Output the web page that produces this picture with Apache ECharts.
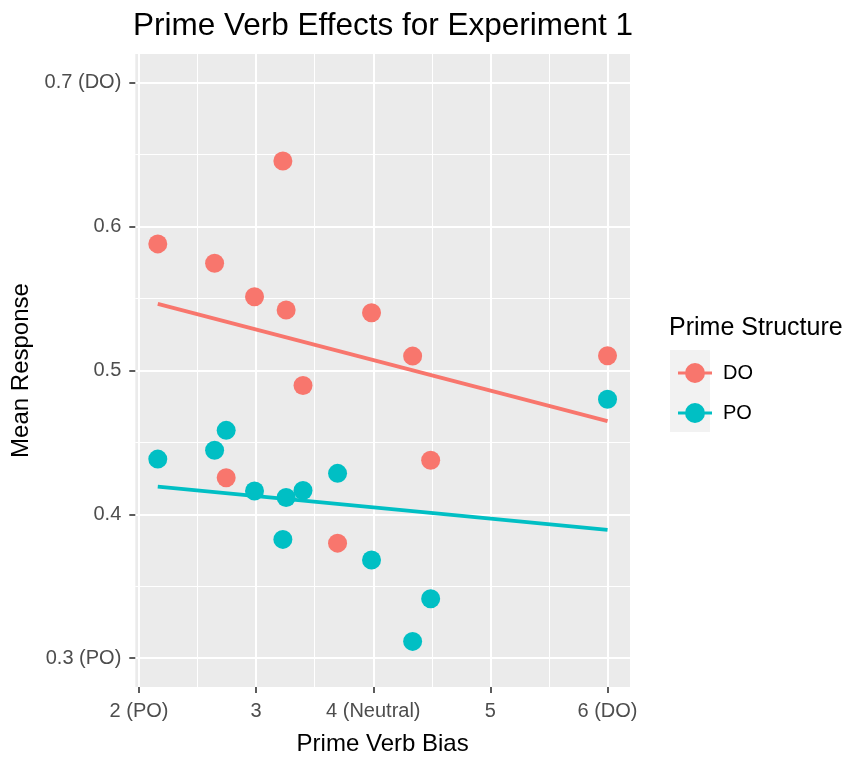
<!DOCTYPE html>
<html>
<head>
<meta charset="utf-8">
<title>Prime Verb Effects for Experiment 1</title>
<script src="https://cdn.jsdelivr.net/npm/echarts@6/dist/echarts.min.js"></script>
<style>
  html, body { margin: 0; padding: 0; background: #ffffff; }
  #chart { width: 851px; height: 761px; }
</style>
</head>
<body>
<div id="chart"></div>
<script>
// Prime verb bias (x) for each of the 12 prime verbs
const verbBias = [2.16, 2.645, 2.744, 2.986, 3.228, 3.256, 3.40, 3.695, 3.985, 4.336, 4.49, 6.0];
// Mean response after a DO prime and after a PO prime, per verb
const doResponse = [0.588, 0.5746, 0.4255, 0.5512, 0.6456, 0.542, 0.4896, 0.380, 0.5402, 0.510, 0.4376, 0.5103];
const poResponse = [0.4384, 0.4446, 0.4584, 0.4163, 0.3826, 0.4117, 0.4166, 0.4285, 0.3683, 0.3117, 0.3414, 0.480];

const seriesNames = ['DO', 'PO'];
const seriesColors = ['#F8766D', '#00BFC4'];

const xTicks = [2, 3, 4, 5, 6];
const xTickLabels = ['2 (PO)', '3', '4 (Neutral)', '5', '6 (DO)'];
const xMinorTicks = [2.5, 3.5, 4.5, 5.5];
const yTicks = [0.3, 0.4, 0.5, 0.6, 0.7];
const yTickLabels = ['0.3 (PO)', '0.4', '0.5', '0.6', '0.7 (DO)'];
const yMinorTicks = [0.35, 0.45, 0.55, 0.65];

// Panel limits: data range padded by 5% on each side
const xRange = [Math.min(...verbBias), Math.max(...verbBias)];
const xPad = (xRange[1] - xRange[0]) * 0.05;
const xMin = xRange[0] - xPad, xMax = xRange[1] + xPad;
const yMin = 0.28, yMax = 0.72;

// Ordinary least squares fit, evaluated at the ends of the x range
function lmLine(xs, ys) {
  const n = xs.length;
  const mx = xs.reduce((a, b) => a + b, 0) / n;
  const my = ys.reduce((a, b) => a + b, 0) / n;
  let sxy = 0, sxx = 0;
  for (let i = 0; i < n; i++) {
    sxy += (xs[i] - mx) * (ys[i] - my);
    sxx += (xs[i] - mx) * (xs[i] - mx);
  }
  const b = sxy / sxx, a = my - b * mx;
  return [[xRange[0], a + b * xRange[0]], [xRange[1], a + b * xRange[1]]];
}

function pick(ticks, labels, v) {
  let best = 0;
  for (let i = 1; i < ticks.length; i++) {
    if (Math.abs(ticks[i] - v) < Math.abs(ticks[best] - v)) best = i;
  }
  return labels[best];
}

const FONT = "'Liberation Sans', Arial, Helvetica, sans-serif";
const responses = [doResponse, poResponse];

const pointSeries = seriesNames.map((name, k) => ({
  name: name,
  type: 'scatter',
  xAxisIndex: 0,
  yAxisIndex: 0,
  symbol: 'circle',
  symbolSize: 19,
  itemStyle: { color: seriesColors[k], opacity: 1 },
  emphasis: { disabled: true },
  z: 3,
  data: verbBias.map((x, i) => [x, responses[k][i]])
}));

const fitSeries = seriesNames.map((name, k) => ({
  name: name,
  type: 'line',
  xAxisIndex: 0,
  yAxisIndex: 0,
  showSymbol: false,
  symbol: 'none',
  lineStyle: { color: seriesColors[k], width: 3.8 },
  emphasis: { disabled: true },
  z: 4,
  data: lmLine(verbBias, responses[k])
}));

const legendIcon = 'path://M0,8.5H7.2V11.5H0Z M26.8,8.5H34V11.5H26.8Z M7,10A10,10 0 1,1 27,10A10,10 0 1,1 7,10Z';

const chart = echarts.init(document.getElementById('chart'), null, { renderer: 'canvas' });
chart.setOption({
  backgroundColor: '#ffffff',
  animation: false,
  textStyle: { fontFamily: FONT },
  title: {
    text: 'Prime Verb Effects for Experiment 1',
    left: 133,
    top: 10,
    padding: 0,
    textStyle: { fontFamily: FONT, fontSize: 31.5, fontWeight: 'normal', color: '#000000' }
  },
  grid: {
    left: 135.3,
    right: 221,
    top: 54,
    bottom: 68,
    show: true,
    backgroundColor: '#EBEBEB',
    borderWidth: 0
  },
  legend: {
    data: seriesNames,
    orient: 'vertical',
    left: 673,
    top: 358,
    itemWidth: 34,
    itemHeight: 20,
    itemGap: 20,
    icon: legendIcon,
    selectedMode: false,
    textStyle: { fontFamily: FONT, fontSize: 20, color: '#000000', padding: [0, 0, 0, 6] }
  },
  graphic: [
    {
      type: 'rect',
      shape: { x: 670, y: 350, width: 40, height: 82 },
      style: { fill: '#F2F2F2' },
      z: 0
    },
    {
      type: 'text',
      x: 669,
      y: 328,
      style: {
        text: 'Prime Structure',
        font: '25px ' + FONT,
        fill: '#000000',
        textAlign: 'left',
        textVerticalAlign: 'middle'
      },
      z: 1
    }
  ],
  xAxis: [
    {
      type: 'value',
      min: xMin,
      max: xMax,
      position: 'bottom',
      name: 'Prime Verb Bias',
      nameLocation: 'middle',
      nameGap: 45,
      nameTextStyle: { fontFamily: FONT, fontSize: 24, color: '#000000' },
      axisLine: { show: false },
      axisTick: { show: true, customValues: xTicks, length: 6, lineStyle: { color: '#333333', width: 1.6 } },
      axisLabel: {
        customValues: xTicks,
        margin: 14,
        fontFamily: FONT,
        fontSize: 20,
        color: '#4D4D4D',
        formatter: v => pick(xTicks, xTickLabels, v)
      },
      splitLine: { show: true, lineStyle: { color: '#FFFFFF', width: 2 } }
    },
    {
      type: 'value',
      min: xMin,
      max: xMax,
      position: 'top',
      axisLine: { show: false },
      axisTick: { show: false, customValues: xMinorTicks },
      axisLabel: { show: false, customValues: xMinorTicks },
      splitLine: { show: true, lineStyle: { color: '#FFFFFF', width: 1 } }
    }
  ],
  yAxis: [
    {
      type: 'value',
      min: yMin,
      max: yMax,
      position: 'left',
      name: 'Mean Response',
      nameLocation: 'middle',
      nameGap: 99,
      nameRotate: 90,
      nameTextStyle: { fontFamily: FONT, fontSize: 24, color: '#000000' },
      axisLine: { show: false },
      axisTick: { show: true, customValues: yTicks, length: 6, lineStyle: { color: '#333333', width: 1.6 } },
      axisLabel: {
        customValues: yTicks,
        margin: 14,
        fontFamily: FONT,
        fontSize: 20,
        color: '#4D4D4D',
        formatter: v => pick(yTicks, yTickLabels, v)
      },
      splitLine: { show: true, lineStyle: { color: '#FFFFFF', width: 2 } }
    },
    {
      type: 'value',
      min: yMin,
      max: yMax,
      position: 'right',
      axisLine: { show: false },
      axisTick: { show: false, customValues: yMinorTicks },
      axisLabel: { show: false, customValues: yMinorTicks },
      splitLine: { show: true, lineStyle: { color: '#FFFFFF', width: 1 } }
    }
  ],
  series: [...pointSeries, ...fitSeries]
});
</script>
</body>
</html>
